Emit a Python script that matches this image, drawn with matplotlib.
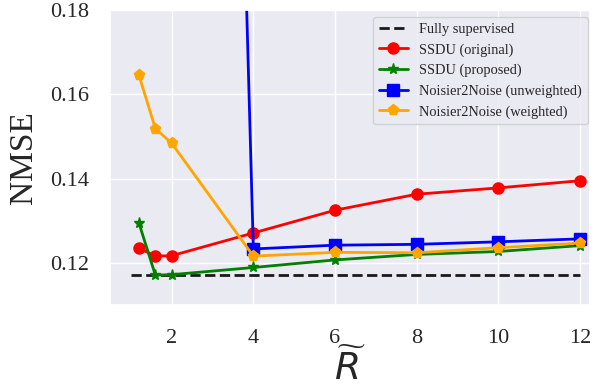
import matplotlib
matplotlib.use("Agg")
import matplotlib.pyplot as plt
import seaborn as sns

x = [1.2, 1.6, 2, 4, 6, 8, 10, 12]
ssdu_original = [0.1235, 0.1216, 0.1217, 0.1271, 0.1325, 0.1363, 0.1378, 0.1395]
ssdu_proposed = [0.1294, 0.1171, 0.1172, 0.1189, 0.1207, 0.1220, 0.1227, 0.1241]
n2n_unweighted = [0.95, 0.88, 0.82, 0.1233, 0.1242, 0.1244, 0.1250, 0.1257]
n2n_weighted = [0.1645, 0.1519, 0.1484, 0.1216, 0.1225, 0.1224, 0.1236, 0.1247]
fully_supervised = 0.1172
fs_x = [1, 12]

sns.set_theme(style="darkgrid")
plt.rcParams['font.family'] = ['Liberation Serif', 'DejaVu Serif']

fig = plt.figure(figsize=(5.98, 3.91), dpi=100)
ax = fig.add_axes([0.184, 0.220, 0.803, 0.754])

ax.plot(fs_x, [fully_supervised] * 2, 'k--', lw=2, label='Fully supervised')
ax.plot(x, ssdu_original, color='red', marker='o', lw=2, ms=8, label='SSDU (original)')
ax.plot(x, ssdu_proposed, color='green', marker='*', lw=2, ms=8, label='SSDU (proposed)')
ax.plot(x, n2n_unweighted, color='blue', marker='s', lw=2, ms=8, label='Noisier2Noise (unweighted)')
ax.plot(x, n2n_weighted, color='orange', marker='p', lw=2, ms=8, label='Noisier2Noise (weighted)')

ax.set_xlim(0.49, 12.25)
ax.set_ylim(0.11, 0.18)
ax.set_xticks([2, 4, 6, 8, 10, 12])
ax.set_yticks([0.12, 0.14, 0.16, 0.18])
ax.set_yticklabels(['0.12', '0.14', '0.16', '0.18'])
ax.tick_params(axis='both', labelsize=16)
ax.tick_params(axis='x', pad=11.5)
ax.tick_params(axis='y', pad=9)
ax.set_ylabel('NMSE', fontsize=24, labelpad=8)
ax.set_xlabel(r'$\widetilde{R}$', fontsize=27, labelpad=0)

leg = ax.legend(loc='upper right', fontsize=10.4, frameon=True,
                bbox_to_anchor=(588 / 598, 1 - 17 / 391),
                bbox_transform=fig.transFigure, borderaxespad=0)

fig.savefig('out.png', dpi=100)
